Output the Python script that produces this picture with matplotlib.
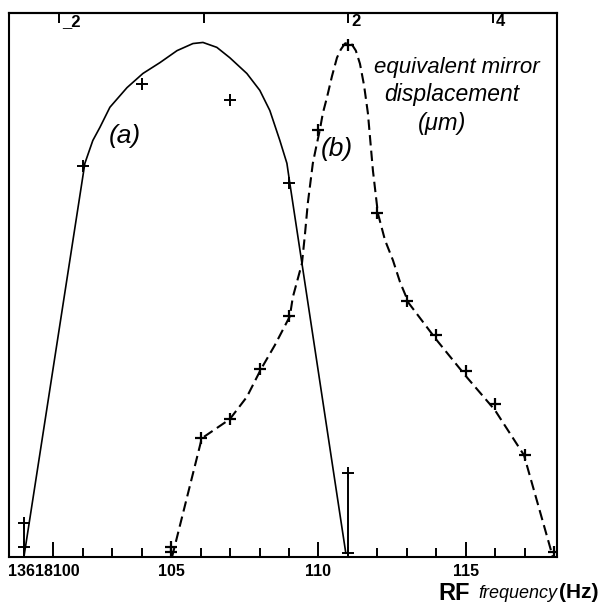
import matplotlib
matplotlib.use("Agg")
import matplotlib.pyplot as plt
import matplotlib.transforms as mtransforms

plt.rcParams['font.family'] = ['Liberation Sans', 'DejaVu Sans']

# curve (a): measured points (RF frequency in Hz, signal in arbitrary units)
a_freq = [102, 104, 107, 109]
a_sig = [71.9, 86.8, 84.0, 68.6]
# vertical spread bars for (a) at the edges
a_bar_freq = [100, 111]
a_bar_low = [1.8, 0.7]
a_bar_high = [6.2, 15.4]
# hand drawn curve (a)
a_line_freq = [100.0, 102.07, 102.34, 102.58, 102.92, 103.50, 104.04, 104.62, 105.20,
               105.74, 106.08, 106.55, 106.99, 107.57, 108.01, 108.35, 108.69, 108.93,
               109.03, 110.93]
a_line_sig = [0.0, 72.3, 76.5, 78.9, 82.6, 86.2, 88.8, 90.8, 93.0,
              94.3, 94.5, 93.6, 91.7, 88.8, 85.7, 82.0, 76.5, 72.3,
              68.6, 0.7]

# curve (b): measured points
b_freq = [105, 105, 106, 107, 108, 109, 110, 111, 112, 113, 114, 115, 116, 117, 118]
b_sig = [0.9, 1.8, 21.8, 25.3, 34.5, 44.2, 78.5, 94.1, 63.1, 47.0, 40.7, 34.1, 28.1, 18.7, 0.9]
# dashed curve (b)
b_line_freq = [105.03, 106.04, 106.99, 107.57, 108.05, 108.52, 109.03, 109.13, 109.44,
               109.54, 109.64, 109.81, 109.92, 110.05, 110.15, 110.29, 110.46, 110.63,
               110.76, 110.90, 111.03, 111.14, 111.27, 111.41, 111.55, 111.68, 111.85,
               112.02, 112.26, 112.53, 112.77, 113.07, 114.02, 115.04, 115.99, 116.98,
               117.96]
b_line_sig = [0.0, 21.8, 25.3, 29.4, 34.5, 38.9, 44.2, 47.7, 53.9,
              59.1, 65.0, 72.3, 75.2, 78.5, 81.5, 84.4, 88.3, 91.7,
              93.2, 94.3, 94.5, 94.1, 93.0, 90.6, 86.6, 81.5, 71.0,
              63.1, 58.2, 54.5, 50.5, 46.6, 39.8, 33.0, 27.0, 18.7,
              0.0]

# bottom axis ticks
major_ticks = [100, 101, 105, 110, 115]
major_labels = ['13618100', '', '105', '110', '115']
minor_ticks = list(range(100, 119))

# top axis: equivalent mirror displacement (um)
top_ticks = [-2, 0, 2, 4]
top_labels = ['_2', '', '2', '4']
zero_hz = 106.11
hz_per_um = 2.452

fig = plt.figure(figsize=(6.0, 6.07), dpi=100)
ax = fig.add_axes([0.0158, 0.0824, 0.9125, 0.897])

ax.plot(a_line_freq, a_line_sig, color='black', lw=1.2)
ax.plot(a_freq, a_sig, ls='none', marker='+', ms=9, mew=1.4, color='black')
for f, lo, hi in zip(a_bar_freq, a_bar_low, a_bar_high):
    ax.plot([f, f], [lo, hi], color='black', lw=1.4, marker='+', ms=9, mew=1.4)

ax.plot(b_line_freq, b_line_sig, color='black', lw=1.5, ls=(0, (5, 2.5)))
ax.plot(b_freq, b_sig, ls='none', marker='+', ms=9, mew=1.6, color='black')

ax.set_xlim(99.51, 118.1)
ax.set_ylim(0, 100)
ax.set_yticks([])

for s in ax.spines.values():
    s.set_linewidth(1.5)

ax.set_xticks(major_ticks)
ax.set_xticklabels(major_labels, fontsize=11.5, fontweight='bold')
ax.set_xticks(minor_ticks, minor=True)
ax.tick_params(axis='x', which='major', direction='in', length=11, width=1.4, pad=5, top=False)
ax.tick_params(axis='x', which='minor', direction='in', length=6.5, width=1.4, top=False)
lbl = ax.get_xticklabels()[0]
lbl.set_transform(lbl.get_transform() + mtransforms.ScaledTranslation(0.195, 0, fig.dpi_scale_trans))

sec = ax.secondary_xaxis('top', functions=(lambda f: (f - zero_hz) / hz_per_um,
                                           lambda d: zero_hz + d * hz_per_um))
sec.set_xticks(top_ticks)
sec.set_xticklabels(top_labels, fontsize=12, fontweight='bold', ha='left')
sec.tick_params(direction='in', length=7, width=1.4, pad=-12)
sec.spines['top'].set_linewidth(1.5)
for t in sec.get_xticklabels():
    t.set_transform(t.get_transform() + mtransforms.ScaledTranslation(0.03, 0, fig.dpi_scale_trans))

ax.text(103.43, 77.4, '(a)', fontsize=19, style='italic', ha='center', va='center')
ax.text(110.63, 75.0, '(b)', fontsize=19, style='italic', ha='center', va='center')
ax.text(114.70, 89.9, 'equivalent mirror', fontsize=16, style='italic', ha='center', va='center')
ax.text(114.53, 84.9, 'displacement', fontsize=16.5, style='italic', ha='center', va='center')
ax.text(114.21, 79.6, '(μm)', fontsize=17, style='italic', ha='center', va='center')

fig.text(438 / 600, 1 - 593 / 607, 'RF', fontsize=17, fontweight='bold', ha='left', va='center')
fig.text(478 / 600, 1 - 593 / 607, 'frequency', fontsize=13, style='italic', ha='left', va='center')
fig.text(598 / 600, 1 - 593 / 607, '(Hz)', fontsize=15, fontweight='bold', ha='right', va='center')

fig.savefig('out.png', dpi=100)
